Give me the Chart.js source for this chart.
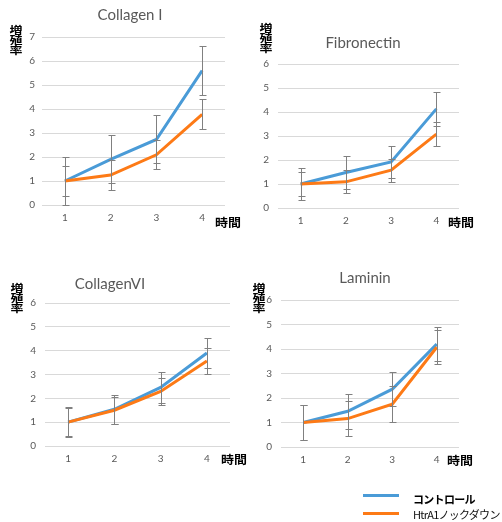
<!DOCTYPE html>
<html lang="ja">
<head>
<meta charset="utf-8">
<title>増殖率</title>
<script src="https://cdn.jsdelivr.net/npm/chart.js@4.4.1/dist/chart.umd.min.js"></script>
<style>
  body { margin: 0; background: #fff; }
  #page { position: relative; width: 502px; height: 522px; overflow: hidden; font-family: Lato, "Noto Sans CJK JP", sans-serif; }
  canvas { position: absolute; }
  .title { position: absolute; font-size: 15px; line-height: 16px; color: #595959; white-space: nowrap; transform: translateX(-50%); }
  .ylab { position: absolute; width: 14px; font-family: "Noto Sans CJK JP", sans-serif; font-weight: bold; font-size: 13px; line-height: 13px; text-align: center; color: #000; transform: scaleY(0.8); transform-origin: top left; }
  .xlab { position: absolute; font-family: "Noto Sans CJK JP", sans-serif; font-weight: bold; font-size: 13px; line-height: 13px; color: #000; white-space: nowrap; transform: scaleY(0.9); }
  .key { position: absolute; height: 3px; width: 36px; }
  .keytext { position: absolute; font-family: "Noto Sans CJK JP", sans-serif; font-size: 11px; line-height: 12px; color: #111; white-space: nowrap; letter-spacing: -0.7px; }
</style>
</head>
<body>
<div id="page">
  <canvas id="collagen1" width="250" height="250" style="left:0;top:0"></canvas>
  <canvas id="fibronectin" width="252" height="250" style="left:250px;top:0"></canvas>
  <canvas id="collagen6" width="250" height="220" style="left:0;top:260px"></canvas>
  <canvas id="laminin" width="252" height="220" style="left:250px;top:260px"></canvas>

  <div class="title" style="left:130px;top:6px">Collagen I</div>
  <div class="title" style="left:363px;top:34px">Fibronectin</div>
  <div class="title" style="left:110px;top:275px">CollagenVI</div>
  <div class="title" style="left:365px;top:269px">Laminin</div>

  <div class="ylab" style="left:9px;top:24px">増<br>殖<br>率</div>
  <div class="ylab" style="left:259px;top:22px">増<br>殖<br>率</div>
  <div class="ylab" style="left:10px;top:282px">増<br>殖<br>率</div>
  <div class="ylab" style="left:252px;top:282px">増<br>殖<br>率</div>

  <div class="xlab" style="left:215px;top:216px">時間</div>
  <div class="xlab" style="left:448px;top:216px">時間</div>
  <div class="xlab" style="left:221px;top:453px">時間</div>
  <div class="xlab" style="left:447px;top:454px">時間</div>

  <div class="key" style="left:363px;top:494px;background:#4a9bd7"></div>
  <div class="key" style="left:363px;top:512px;background:#fd7a16"></div>
  <div class="keytext" style="left:413px;top:493px;font-weight:bold;color:#000">コントロール</div>
  <div class="keytext" style="left:413px;top:508px">HtrA1ノックダウン</div>
</div>
<script>
// time points on the x axis
const timePoints = ['1', '2', '3', '4'];
const seriesNames = ['コントロール', 'HtrA1ノックダウン'];

// Collagen I
const col1Control = [1, 1.9, 2.73, 5.6];
const col1ControlErr = [1.0, 1.0, 1.0, 1.01];
const col1Knockdown = [1, 1.25, 2.09, 3.78];
const col1KnockdownErr = [0.63, 0.62, 0.6, 0.63];

// Fibronectin
const fibControl = [1, 1.48, 1.92, 4.13];
const fibControlErr = [0.68, 0.68, 0.68, 0.7];
const fibKnockdown = [1, 1.09, 1.58, 3.08];
const fibKnockdownErr = [0.5, 0.48, 0.48, 0.5];

// Collagen VI
const col6Control = [1, 1.54, 2.46, 3.9];
const col6ControlErr = [0.62, 0.62, 0.65, 0.64];
const col6Knockdown = [1, 1.5, 2.29, 3.57];
const col6KnockdownErr = [0.6, 0.56, 0.56, 0.56];

// Laminin
const lamControl = [1, 1.46, 2.36, 4.2];
const lamControlErr = [0.71, 0.72, 0.7, 0.71];
const lamKnockdown = [1, 1.16, 1.75, 4.07];
const lamKnockdownErr = [0.71, 0.72, 0.72, 0.7];

// y axis maxima (ticks every 1)
const yMaxCollagen1 = 7;
const yMaxOther = 6;

const blue = '#4a9bd7';
const orange = '#fd7a16';

// simple error bar plugin, uses the y scale of each chart
const errorBars = {
  id: 'errorBars',
  afterDatasetsDraw(chart) {
    const ctx = chart.ctx;
    const yScale = chart.scales.y;
    ctx.save();
    ctx.strokeStyle = '#808080';
    ctx.lineWidth = 1;
    chart.data.datasets.forEach((ds, i) => {
      const meta = chart.getDatasetMeta(i);
      meta.data.forEach((pt, j) => {
        const x = Math.round(pt.x) + 0.5;
        const top = Math.round(yScale.getPixelForValue(ds.data[j] + ds.errors[j])) + 0.5;
        const bottom = Math.round(yScale.getPixelForValue(ds.data[j] - ds.errors[j])) + 0.5;
        ctx.beginPath();
        ctx.moveTo(x, top);
        ctx.lineTo(x, bottom);
        ctx.moveTo(x - 3, top);
        ctx.lineTo(x + 4, top);
        ctx.moveTo(x - 3, bottom);
        ctx.lineTo(x + 4, bottom);
        ctx.stroke();
      });
    });
    ctx.restore();
  }
};

const tickFont = { family: 'Lato, sans-serif', size: 10 };

function makeChart(id, control, controlErr, knockdown, knockdownErr, yMax, box) {
  return new Chart(document.getElementById(id), {
    type: 'line',
    data: {
      labels: timePoints,
      datasets: [
        { label: seriesNames[0], data: control, errors: controlErr, borderColor: blue, order: 2 },
        { label: seriesNames[1], data: knockdown, errors: knockdownErr, borderColor: orange, order: 1 }
      ]
    },
    options: {
      responsive: false,
      animation: false,
      devicePixelRatio: 1,
      layout: { padding: box.pad },
      plugins: { legend: { display: false }, tooltip: { enabled: false } },
      elements: {
        point: { radius: 0 },
        line: { tension: 0, borderWidth: 3, fill: false }
      },
      scales: {
        x: {
          offset: true,
          grid: { display: false, drawTicks: false },
          border: { display: false },
          ticks: { padding: 7, color: '#595959', font: tickFont },
          afterFit(scale) { scale.height = box.xHeight; }
        },
        y: {
          min: 0,
          max: yMax,
          grid: { color: '#d9d9d9', drawTicks: false },
          border: { display: false },
          ticks: { stepSize: 1, padding: box.yPad, color: '#595959', font: tickFont },
          afterFit(scale) { scale.width = box.yWidth; }
        }
      }
    },
    plugins: [errorBars]
  });
}

makeChart('collagen1', col1Control, col1ControlErr, col1Knockdown, col1KnockdownErr, yMaxCollagen1,
  { pad: { left: 0, top: 37, right: 25, bottom: 0 }, xHeight: 45, yWidth: 42, yPad: 7 });
makeChart('fibronectin', fibControl, fibControlErr, fibKnockdown, fibKnockdownErr, yMaxOther,
  { pad: { left: 0, top: 64, right: 43, bottom: 0 }, xHeight: 42, yWidth: 28, yPad: 9 });
makeChart('collagen6', col6Control, col6ControlErr, col6Knockdown, col6KnockdownErr, yMaxOther,
  { pad: { left: 0, top: 43, right: 20, bottom: 0 }, xHeight: 34, yWidth: 45, yPad: 9 });
makeChart('laminin', lamControl, lamControlErr, lamKnockdown, lamKnockdownErr, yMaxOther,
  { pad: { left: 0, top: 40, right: 43, bottom: 0 }, xHeight: 33, yWidth: 31, yPad: 9 });
</script>
</body>
</html>
